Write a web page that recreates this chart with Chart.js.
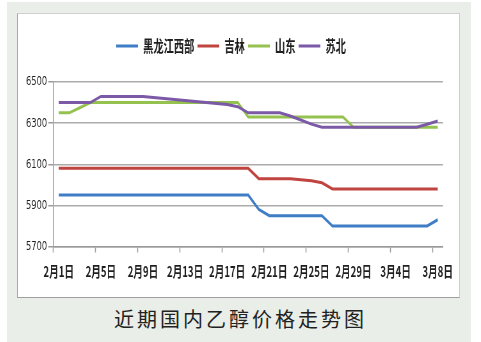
<!DOCTYPE html>
<html>
<head>
<meta charset="utf-8">
<script src="https://cdn.jsdelivr.net/npm/chart.js@4.4.0/dist/chart.umd.min.js"></script>
<style>
    html, body { margin: 0; padding: 0; background: #fff; }
    #page { position: relative; width: 481px; height: 342px; overflow: hidden; }
    #panel { position: absolute; left: 7px; top: 2px; width: 464px; height: 340px; background: #e9eee8; }
    #box {
        position: absolute; left: 17px; top: 13px; width: 441px; height: 283px;
        background: #fff; border: 1px solid #cfcfcf;
        border-left-color: #a9a9a9; border-bottom-color: #9e9e9e;
    }
    #chart { position: absolute; left: 17px; top: 13px; transform: scaleX(0.64); transform-origin: 0 0; }
    #caption {
        position: absolute; left: 7px; width: 464px; top: 307px; line-height: 24px;
        text-align: center; font-family: "Noto Sans CJK SC", sans-serif; font-size: 20px;
        letter-spacing: 3px; padding-left: 3px; box-sizing: border-box; color: #222;
    }
</style>
</head>
<body>
<div id="page">
    <div id="panel"></div>
    <div id="box"></div>
    <canvas id="chart" width="691" height="284"></canvas>
    <div id="caption">近期国内乙醇价格走势图</div>
</div>
<script>
// Data
const dates = [
    '2月1日', '2月2日', '2月3日', '2月4日', '2月5日', '2月6日', '2月7日', '2月8日',
    '2月9日', '2月10日', '2月11日', '2月12日', '2月13日', '2月14日', '2月15日', '2月16日',
    '2月17日', '2月18日', '2月19日', '2月20日', '2月21日', '2月22日', '2月23日', '2月24日',
    '2月25日', '2月26日', '2月27日', '2月28日', '2月29日', '3月1日', '3月2日', '3月3日',
    '3月4日', '3月5日', '3月6日', '3月7日', '3月8日'
];

const heilongjiangWest = [
    5950, 5950, 5950, 5950, 5950, 5950, 5950, 5950, 5950, 5950,
    5950, 5950, 5950, 5950, 5950, 5950, 5950, 5950, 5950, 5880,
    5850, 5850, 5850, 5850, 5850, 5850, 5800, 5800, 5800, 5800,
    5800, 5800, 5800, 5800, 5800, 5800, 5830
];

const jilin = [
    6080, 6080, 6080, 6080, 6080, 6080, 6080, 6080, 6080, 6080,
    6080, 6080, 6080, 6080, 6080, 6080, 6080, 6080, 6080, 6030,
    6030, 6030, 6030, 6025, 6020, 6010, 5980, 5980, 5980, 5980,
    5980, 5980, 5980, 5980, 5980, 5980, 5980
];

const shandong = [
    6350, 6350, 6375, 6400, 6400, 6400, 6400, 6400, 6400, 6400,
    6400, 6400, 6400, 6400, 6400, 6400, 6400, 6400, 6330, 6330,
    6330, 6330, 6330, 6330, 6330, 6330, 6330, 6330, 6280, 6280,
    6280, 6280, 6280, 6280, 6280, 6280, 6280
];

const subei = [
    6400, 6400, 6400, 6400, 6430, 6430, 6430, 6430, 6430, 6425,
    6420, 6415, 6410, 6405, 6400, 6395, 6390, 6380, 6350, 6350,
    6350, 6350, 6335, 6315, 6295, 6280, 6280, 6280, 6280, 6280,
    6280, 6280, 6280, 6280, 6280, 6295, 6310
];

const yTicks = [5700, 5900, 6100, 6300, 6500];

// Chart
Chart.defaults.font.family = '"Noto Sans CJK SC", sans-serif';
Chart.defaults.color = '#1e1e1e';

function lineSet(label, data, color) {
    return {
        label: label,
        data: data,
        borderColor: color,
        backgroundColor: color,
        borderWidth: 3,
        pointRadius: 0,
        tension: 0
    };
}

// later series first so they are drawn on top; legend is reversed back
const datasets = [
    lineSet('苏北', subei, '#7b59a6'),
    lineSet('山东', shandong, '#95c24f'),
    lineSet('吉林', jilin, '#c0443f'),
    lineSet('黑龙江西部', heilongjiangWest, '#3f7ec6')
];

new Chart(document.getElementById('chart'), {
    type: 'line',
    data: { labels: dates, datasets: datasets },
    options: {
        responsive: false,
        animation: false,
        layout: { padding: { top: 20, right: 22, bottom: 0, left: 0 } },
        plugins: {
            legend: {
                position: 'top',
                reverse: true,
                labels: {
                    usePointStyle: true,
                    pointStyle: 'line',
                    pointStyleWidth: 34,
                    padding: 5,
                    font: { size: 16, weight: 'bold' },
                    color: '#1e1e1e'
                }
            },
            subtitle: {
                display: true,
                text: '',
                weight: 500,
                padding: { top: 0, bottom: 6 },
                font: { size: 10 }
            },
            tooltip: { enabled: false }
        },
        scales: {
            x: {
                type: 'category',
                offset: true,
                afterFit: s => { s.height = 50.5; },
                grid: {
                    offset: true,
                    drawOnChartArea: false,
                    drawTicks: true,
                    tickLength: 6,
                    tickWidth: 1.5,
                    tickColor: ctx => (ctx.index % 4 === 0 ? '#9a9a9a' : 'rgba(0,0,0,0)')
                },
                border: { display: true, color: '#9a9a9a', width: 1.5 },
                ticks: {
                    autoSkip: false,
                    maxRotation: 0,
                    minRotation: 0,
                    padding: 9.5,
                    font: { size: 15, weight: 'bold' },
                    color: '#1e1e1e',
                    callback: function (value, index) {
                        return index % 4 === 0 ? this.getLabelForValue(value) : '';
                    }
                }
            },
            y: {
                min: yTicks[0],
                max: yTicks[yTicks.length - 1],
                afterFit: s => { s.width = 57; },
                afterBuildTicks: axis => { axis.ticks = yTicks.map(v => ({ value: v })); },
                grid: {
                    color: '#ababab',
                    lineWidth: 1.5,
                    drawTicks: true,
                    tickLength: 8,
                    tickColor: '#9a9a9a'
                },
                border: { display: true, color: '#9a9a9a', width: 1.5 },
                ticks: {
                    padding: 2,
                    font: { family: '"DejaVu Sans", sans-serif', size: 13 },
                    color: '#1e1e1e',
                    callback: v => String(v)
                }
            }
        }
    }
});
</script>
</body>
</html>
